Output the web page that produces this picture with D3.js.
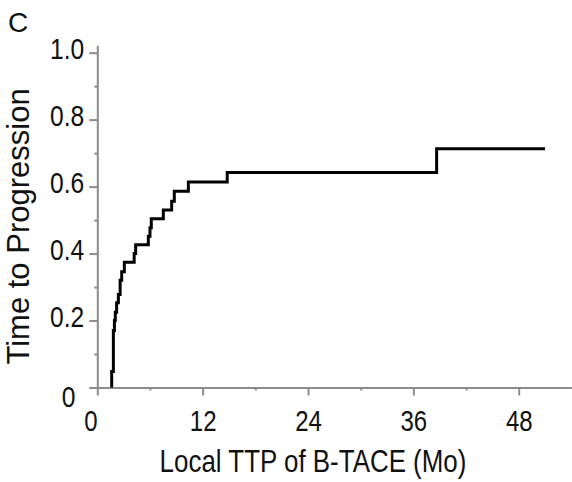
<!DOCTYPE html>
<html lang="en">
<head>
    <meta charset="UTF-8">
    <title>Local TTP of B-TACE</title>
    <script src="https://d3js.org/d3.v7.min.js"></script>
    <style>
        body {margin: 0; background: #fff;}
        text {
            font-family: "Liberation Sans", Arial, sans-serif;
            fill: #111;
        }
        .axis path, .axis line {stroke: #8c8c8c; stroke-width: 2;}
    </style>
</head>
<body>
<script>
    const width = 572;
    const height = 482;

    // step curve: event time (months) and cumulative proportion after it
    const months = [1.64, 1.64, 1.83, 1.95, 2.05, 2.2, 2.4, 2.6, 2.78, 3.08, 4.2, 4.37,
        5.81, 6.0, 6.15, 7.52, 8.47, 8.77, 10.37, 14.8, 38.65, 51.0];
    const values = [0, 0.048, 0.17, 0.20, 0.225, 0.253, 0.278, 0.32, 0.346, 0.374, 0.40, 0.426,
        0.452, 0.477, 0.504, 0.53, 0.556, 0.586, 0.614, 0.642, 0.713, 0.713];

    const xTicks = [0, 12, 24, 36, 48];
    const xMinor = [6, 18, 30, 42];
    const yTicks = [0, 0.2, 0.4, 0.6, 0.8, 1.0];
    const yMinor = [0.1, 0.3, 0.5, 0.7, 0.9];

    const svg = d3.select("body").append("svg")
            .attr("width", width).attr("height", height);

    const x = d3.scaleLinear().domain([0, 54]).range([97.3, 571.4]);
    const y = d3.scaleLinear().domain([0, 1.022]).range([387.5, 45.3]);

    // the labels in the original are horizontally squeezed
    function squeeze(sel, k) {
        sel.each(function() {
            const w = this.getComputedTextLength();
            d3.select(this).attr("textLength", w * k).attr("lengthAdjust", "spacingAndGlyphs");
        });
    }

    drawAxes();
    drawCurve();
    drawLabels();

    function drawAxes() {
        const gx = svg.append("g").attr("class", "axis")
                .attr("transform", `translate(0,${y(0)})`)
                .call(d3.axisBottom(x).tickValues(xTicks).tickSize(8).tickSizeOuter(0).tickPadding(14.5));
        gx.append("g")
                .call(d3.axisBottom(x).tickValues(xMinor).tickSize(3).tickFormat(""))
                .select(".domain").remove();
        gx.selectAll(".tick text")
                .style("font-size", "30px")
                .attr("dx", d => d === 0 ? -7 : 0)
                .call(squeeze, 0.8);

        const gy = svg.append("g").attr("class", "axis")
                .attr("transform", `translate(${x(0)},0)`)
                .call(d3.axisLeft(y).tickValues(yTicks).tickSize(8).tickSizeOuter(0).tickPadding(5)
                        .tickFormat(d => d === 0 ? "0" : d3.format(".1f")(d)));
        gy.append("g")
                .call(d3.axisLeft(y).tickValues(yMinor).tickSize(3).tickFormat(""))
                .select(".domain").remove();
        gy.selectAll(".tick text")
                .style("font-size", "30px")
                .attr("dy", "0.2em")
                .attr("x", d => d === 0 ? -22 : -13)
                .attr("y", d => d === 0 ? 13 : 0)
                .call(squeeze, 0.82);
    }

    function drawCurve() {
        const pts = months.map((m, i) => [m, values[i]]);
        const line = d3.line()
                .x(d => x(d[0]))
                .y(d => y(d[1]))
                .curve(d3.curveStepAfter);
        svg.append("path")
                .datum(pts)
                .attr("d", line)
                .style("fill", "none")
                .style("stroke", "#000")
                .style("stroke-width", 3);
    }

    function drawLabels() {
        svg.append("text")
                .attr("x", 8).attr("y", 32)
                .style("font-size", "28px")
                .text("C");

        svg.append("text")
                .attr("x", 313).attr("y", 471.5)
                .attr("text-anchor", "middle")
                .style("font-size", "32px")
                .text("Local TTP of B-TACE (Mo)")
                .call(squeeze, 0.81);

        svg.append("text")
                .attr("transform", "translate(28.5,226.5) rotate(-90)")
                .attr("text-anchor", "middle")
                .style("font-size", "31px")
                .text("Time to Progression");
    }
</script>

</body>
</html>
